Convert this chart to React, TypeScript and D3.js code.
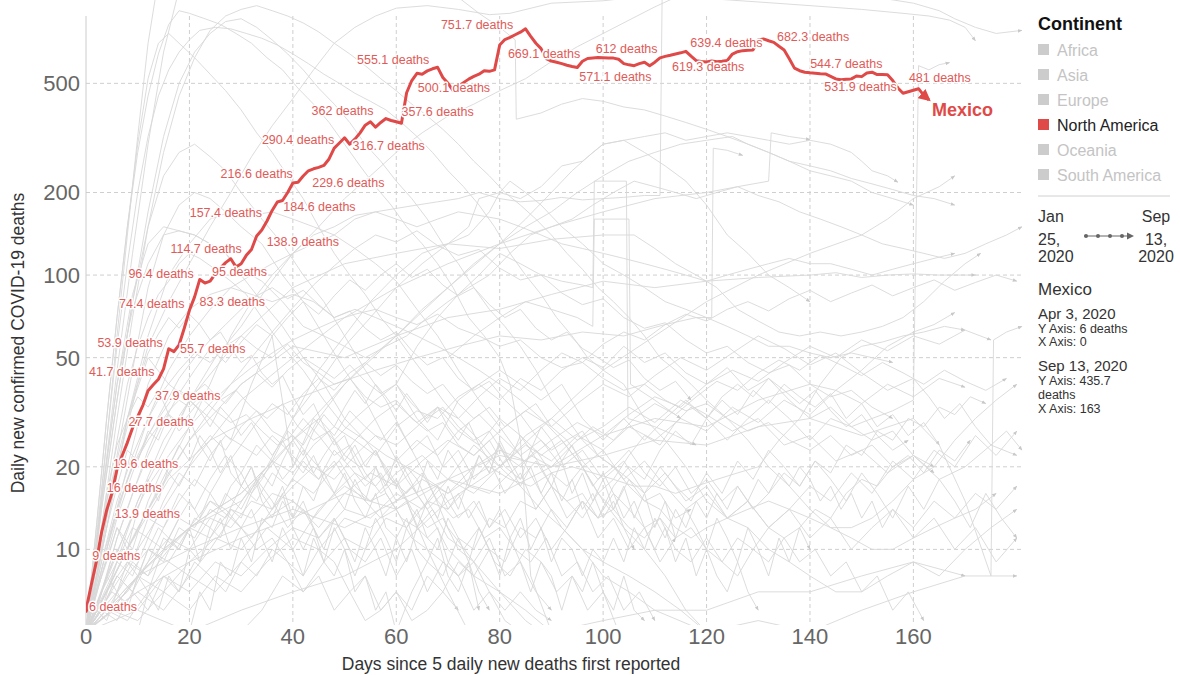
import React from "react";
import * as d3 from "d3";

const WIDTH = 1180;
const HEIGHT = 675;

// Mexico: daily new confirmed deaths (7-day avg), index = days since 5 daily deaths (Apr 3 .. Sep 13, 2020)
const mexicoDeaths = [
  6, 7.4, 9, 11.5, 13.9, 16, 19.6, 22, 24.5, 27.7,
  30.5, 33.5, 37.9, 39.8, 41.7, 45.5, 53.9, 52.6, 55.7, 64,
  74.4, 83.3, 96.4, 93.5, 95, 101, 106, 111, 114.7, 107,
  110, 118, 124, 138.9, 146, 157.4, 172, 184.6, 187, 200,
  216.6, 218, 229.6, 240, 244, 247, 251, 265, 290.4, 303,
  316.7, 300, 313, 330, 352, 362, 346, 360, 372, 366,
  362, 357.6, 462, 512, 544, 540, 555.1, 565, 572, 525,
  500.1, 470, 488, 503, 518, 530, 540, 556, 553, 560,
  690, 722, 735, 751.7, 768, 790, 742, 700, 669.1, 615,
  603, 597, 590, 582, 576, 571.1, 602, 616, 619, 621,
  620, 619, 618, 612, 590, 584, 580, 590, 597, 580,
  597, 619.3, 627, 633, 640, 646, 654, 628, 605, 601,
  598, 603, 600, 602, 606, 639.4, 652, 658, 660, 662,
  720, 726, 715, 705, 682.3, 662, 615, 568, 556, 549,
  546, 544.7, 542, 541, 530, 519, 515, 517, 519, 531.9,
  529, 545, 549, 538, 538, 537, 512, 481, 460, 466,
  472, 478, 452, 435.7,
];

// days whose value is written next to the line
const labelDays = [
  0, 2, 4, 5, 6, 9, 12, 14, 16, 18, 20, 21, 22, 24, 28, 33, 35, 37,
  40, 42, 48, 50, 55, 61, 66, 70, 83, 88, 95, 103, 111, 125, 134, 141, 149, 157,
];
// how each label sits against its point: text-anchor, dx, dy (px)
const labelPlacement: [string, number, number][] = [
  ["start", 3, -4], ["start", -4, -6], ["start", 8, 3], ["start", -5, -6],
  ["start", -4, -6], ["start", -4, -6], ["start", 7, 5], ["end", -4, -8],
  ["end", -6, -6], ["start", 1, 4], ["end", -5, -7], ["start", 5, 5],
  ["end", -6, -6], ["start", 2, -10], ["end", 11, -10], ["start", 10, 6],
  ["end", -5, -8], ["start", 6, 5], ["end", 0, -9], ["start", 9, 7],
  ["end", 0, -8], ["start", 8, 8], ["end", 3, -11], ["start", 0, -12],
  ["end", 2, -11], ["middle", 6, 4], ["end", -2, -10], ["middle", 3, 5],
  ["start", 2, 9], ["middle", 8, -11], ["start", 12, 9], ["middle", -6, -11],
  ["start", -2, -10], ["start", -5, -10], ["middle", 4, 11], ["start", 11, -10],
];

const xTicks = [0, 20, 40, 60, 80, 100, 120, 140, 160];
const yTicks = [10, 20, 50, 100, 200, 500];

const continents = ["Africa", "Asia", "Europe", "North America", "Oceania", "South America"];
const activeContinent = "North America";

type Pt = [number, number];

// other countries that climb past the top of the chart
const greyHigh: Pt[][] = [
  [[0,5],[2,11],[4,25],[6,60],[8,140],[10,320],[12,700],[14,1200],[40,2000],[120,1400],[150,1050],[160,980],[165,920],[168,860],[172,800],[176,760],[181,780]],
  [[0,5],[4,12],[8,30],[12,55],[16,80],[20,110],[24,150],[28,200],[32,270],[36,350],[40,440],[44,560],[48,700],[52,800],[56,880],[60,940],[66,960],[72,930],[78,890],[82,900],[90,980],[100,1000],[110,1050],[120,1020],[130,990],[140,960],[150,930],[158,900],[163,880],[167,850],[170,800],[172,715]],
  [[0,5],[5,8],[10,15],[15,25],[20,35],[25,50],[30,65],[35,90],[40,120],[45,150],[50,190],[55,230],[60,280],[65,330],[70,380],[75,420],[80,470],[85,520],[90,600],[95,680],[100,760],[105,850],[110,950],[115,1050]],
  [[0,5],[2,10],[4,25],[6,55],[8,110],[10,200],[12,320],[14,450],[16,560],[18,650],[20,720],[22,780],[25,800],[28,790],[31,760],[34,730],[37,690],[40,640],[43,590],[46,540],[49,500],[52,460],[55,430],[58,400],[61,360],[64,320],[67,280],[70,240],[73,210],[76,180],[79,150],[82,120],[85,100],[88,85],[91,70],[94,60],[97,50],[100,45],[104,40],[108,30],[112,25],[116,20],[120,15],[124,13],[128,12],[132,10],[136,9],[140,8],[145,7],[150,7],[155,8],[160,9],[165,8],[170,10],[175,12],[180,14]],
  [[0,5],[2,12],[4,30],[6,70],[8,150],[10,280],[12,450],[14,640],[16,820],[18,920],[20,900],[23,860],[26,820],[29,760],[32,700],[35,620],[38,560],[41,480],[44,420],[47,360],[50,300],[53,250],[56,210],[59,180],[62,150],[65,130],[68,110],[71,90],[74,70],[77,60],[80,50],[82,40],[84,25],[86,8],[90,5]],
  [[0,5],[3,14],[6,35],[9,80],[12,170],[15,320],[18,500],[21,650],[24,760],[27,840],[30,860],[33,800],[36,720],[39,640],[42,560],[45,480],[48,420],[51,360],[54,300],[57,260],[60,220],[63,190],[66,160],[69,130],[72,110],[75,90],[78,75],[81,65],[84,55],[87,45],[90,35],[93,30],[96,25],[99,22],[102,20],[105,18],[108,15],[111,14],[114,12],[117,11],[120,12],[124,13],[128,14],[132,15],[136,14],[140,13],[144,12],[148,12],[152,13],[156,15],[160,18],[164,20],[168,25],[172,30],[176,35],[180,40]],
  [[0,5],[3,12],[6,30],[9,70],[12,150],[15,280],[18,450],[21,620],[24,780],[27,880],[30,930],[33,960],[36,920],[39,880],[42,830],[45,770],[48,700],[51,640],[54,580],[57,520],[60,470],[63,420],[66,380],[69,340],[72,300],[75,260],[78,230],[81,200],[84,180],[87,160],[90,140],[93,120],[96,105],[99,90],[102,80],[105,70],[108,60],[111,50],[114,45],[117,40],[120,35],[124,30],[128,25],[132,20],[136,17],[140,14],[144,12],[148,11],[152,10],[156,10],[160,11],[164,12],[168,13],[172,14],[176,16]],
  [[0,5],[2,12],[4,30],[6,70],[8,150],[10,300],[12,520],[14,700],[16,760],[18,700],[21,620],[24,540],[27,470],[30,400],[33,330],[36,280],[39,230],[42,190],[45,150],[48,120],[51,100],[54,85],[57,70],[60,60],[63,50],[66,42],[69,35],[72,30],[76,25],[80,20],[84,17],[88,14],[92,12],[96,10],[100,9],[105,8],[110,7],[115,6],[120,5]],
  [[0,5],[3,15],[6,45],[9,120],[12,300],[15,650],[18,1100],[40,1500],[70,1100],[76,900],[80,800],[83,720],[83.2,370],[88,390],[92,420],[96,440],[100,430],[104,410],[108,400],[112,380],[116,360],[120,340],[124,320],[128,300],[132,280],[136,260],[140,250],[144,240],[148,225],[152,215],[156,205],[160,195],[164,190],[168,180]],
  [[0,5],[4,10],[8,18],[12,30],[16,45],[20,60],[24,75],[28,90],[32,100],[36,110],[40,120],[44,130],[48,140],[52,160],[56,170],[60,175],[64,180],[68,185],[72,190],[76,200],[80,190],[84,185],[88,187],[92,192],[96,188],[100,190],[104,192],[108,195],[111,195],[111.5,1500]],
];

// countries peaking between roughly 50 and 400 deaths a day
const greyMid: Pt[][] = [
  [[0,5],[3,10],[6,22],[9,45],[12,90],[15,140],[18,180],[21,200],[24,190],[27,170],[30,150],[34,130],[38,100],[42,80],[46,60],[50,45],[54,35],[58,25],[62,18],[66,14],[70,10],[75,8],[80,7],[85,6],[90,5],[100,5.5],[110,6],[120,5],[130,5.5],[140,5],[150,6],[160,7],[170,8],[180,8]],
  [[0,5],[3,14],[6,35],[9,80],[12,150],[15,230],[18,280],[21,300],[24,270],[27,240],[30,200],[34,160],[38,130],[42,100],[46,80],[50,60],[54,45],[58,35],[62,25],[66,18],[70,12],[75,9],[80,7],[85,5.5],[88,5]],
  [[0,5],[3,15],[6,40],[9,85],[12,130],[15,150],[18,145],[21,140],[24,130],[27,120],[30,100],[34,80],[38,65],[42,50],[46,40],[50,30],[54,25],[58,20],[62,15],[66,10],[70,7],[74,5]],
  [[0,5],[4,12],[8,30],[12,60],[16,100],[20,130],[24,160],[28,170],[32,165],[36,170],[40,160],[44,150],[48,140],[52,125],[56,110],[60,95],[64,75],[68,60],[72,45],[76,35],[80,28],[84,22],[88,16],[92,12],[96,10],[100,8],[105,7],[110,6],[120,6],[130,7],[140,7],[150,8],[160,9],[170,8]],
  [[0,5],[3,15],[6,40],[9,75],[12,110],[15,140],[18,145],[21,140],[24,130],[27,120],[30,105],[34,95],[38,80],[42,65],[46,60],[50,55],[54,50],[58,55],[62,60],[66,70],[70,80],[74,90],[78,100],[82,120],[86,140],[90,150],[94,160],[98,180],[102,200],[106,220],[110,210],[114,200],[118,190],[122,200],[126,210],[130,195],[134,185],[138,170],[142,160],[146,150],[150,140],[154,130],[158,125],[162,120],[166,115],[170,120],[174,130],[178,140],[181,150]],
  [[0,5],[2,8],[4,15],[6,25],[8,40],[10,55],[12,70],[14,85],[16,95],[18,110],[20,120],[22,115],[25,105],[28,95],[31,85],[34,70],[38,55],[42,45],[46,35],[50,28],[54,25],[58,22],[62,20],[66,18],[70,16],[74,18],[78,20],[82,18],[86,17],[90,19],[94,20],[98,19],[102,18],[106,17],[110,17],[114,16],[118,17],[122,18],[126,19],[130,20],[134,25],[138,30],[142,40],[146,50],[150,55],[154,57],[158,60],[162,62],[166,65],[170,63]],
  [[0,5],[4,10],[8,20],[12,40],[16,60],[20,75],[24,85],[28,90],[32,85],[36,80],[40,85],[44,80],[48,70],[52,75],[56,70],[60,65],[64,60],[68,55],[72,50],[76,45],[80,40],[84,35],[88,30],[92,25],[96,20],[100,15],[104,12],[108,10],[112,8],[116,6],[120,5]],
  [[0,5],[4,7],[8,10],[12,14],[16,20],[20,28],[24,40],[28,60],[32,80],[36,100],[40,120],[44,140],[48,150],[52,165],[56,170],[60,160],[64,150],[68,160],[72,170],[76,165],[80,160],[84,150],[88,140],[92,130],[96,125],[100,120],[104,115],[108,110],[112,105],[116,100],[120,95],[124,100],[128,105],[132,110],[136,115],[140,110],[144,110],[148,105],[152,100],[156,105],[160,110],[164,115],[168,120]],
  [[0,5],[5,6],[10,8],[15,10],[20,12],[25,14],[30,16],[35,20],[40,30],[45,40],[50,55],[55,70],[60,90],[65,110],[70,130],[74,140],[78,170],[80,200],[82,220],[85,200],[88,180],[92,150],[96,130],[98,120],[100,110],[104,100],[108,90],[112,80],[116,75],[120,70],[124,65],[128,60],[132,55],[136,55],[140,52],[144,50],[148,52],[152,50],[156,48]],
  [[0,5],[5,6],[10,8],[15,10],[20,12],[25,14],[30,16],[35,20],[40,25],[45,30],[50,40],[55,50],[60,60],[65,75],[70,90],[75,110],[80,130],[85,150],[90,170],[95,200],[100,230],[105,260],[110,280],[115,300],[120,310],[125,320],[128,300],[132,280],[136,260],[140,240],[144,230],[148,220],[152,200],[156,190],[160,180]],
  [[0,5],[10,6],[20,5],[30,6],[40,7],[50,8],[60,10],[70,15],[80,20],[90,30],[100,45],[110,60],[120,80],[130,100],[140,120],[150,140],[155,160],[160,190],[165,210],[168,230]],
  [[0,5],[10,8],[20,12],[30,15],[40,25],[50,40],[60,60],[70,90],[80,130],[85,160],[90,200],[94,240],[98,280],[100,300],[104,310],[108,280],[112,250],[116,220],[120,180],[124,140],[128,120],[132,100],[136,90],[140,80]],
  [[40,30],[45,45],[50,60],[55,80],[60,100],[65,120],[70,130],[74,150],[76,190],[80,200],[84,190],[88,210],[92,250],[96,260],[100,300],[104,310],[108,320],[112,330],[116,310],[120,320],[124,330],[128,320],[132,310],[136,300],[140,310],[144,300],[148,280],[150,260],[152,240],[155,230],[157,218]],
  [[0,5],[10,15],[20,35],[30,60],[40,90],[50,110],[60,120],[70,130],[80,125],[90,135],[100,140],[106,140],[110,125],[114,110],[118,100],[122,90],[126,75],[130,68],[134,62],[138,60],[142,62],[146,60],[150,62],[154,65],[158,70],[162,80],[166,95],[170,110],[173,120]],
  [[0,5],[10,12],[20,25],[30,40],[40,55],[50,50],[60,60],[70,70],[80,75],[90,85],[100,95],[110,90],[120,95],[130,98],[140,100],[145,102],[150,98],[155,100],[160,101],[165,100],[172,100]],
  [[60,40],[64,55],[68,70],[72,85],[76,100],[80,120],[84,110],[88,100],[92,95],[96,92],[98,90],[98.3,220],[104.5,220],[104.8,30],[110,28],[114,26],[118,24]],
  [[70,50],[75,60],[80,70],[85,80],[90,75],[95,70],[98,65],[98.3,160],[105,160],[105.3,40],[110,35],[115,30]],
  [[0,5],[8,10],[16,18],[24,25],[32,30],[40,35],[48,40],[56,45],[64,50],[72,55],[80,60],[88,58],[96,62],[104,60],[112,66],[118,70],[121,70],[121.3,290],[124,285],[127,273]],
  [[0,5],[10,10],[20,20],[30,35],[40,50],[50,70],[60,90],[70,110],[80,130],[90,150],[100,170],[110,190],[120,200],[126,210],[132,220],[132.5,330],[136,320],[140,312]],
  [[0,5],[4,15],[8,30],[12,50],[16,40],[20,35],[24,30],[28,25],[32,40],[36,60],[40,20],[44,30],[48,25],[52,30],[56,35],[60,40],[64,30],[68,25],[72,35],[76,40],[80,45],[84,40],[88,35],[92,40],[96,30],[100,25],[104,30],[108,25],[112,30],[116,35],[120,30],[124,25],[128,30],[132,35],[136,30],[140,25],[144,30],[148,28],[152,30],[156,32],[160,35],[161,580],[163,560],[165,585],[167,595]],
  [[0,5],[4,7],[8,10],[12,14],[16,19],[20,25],[24,32],[28,40],[32,50],[36,62],[40,76],[44,92],[48,108],[52,125],[56,140],[60,132],[64,145],[68,128],[72,118],[76,124],[80,106],[84,96],[88,100],[92,86],[96,78],[100,82],[104,70],[108,64],[112,67],[116,58],[120,52],[124,55],[128,48],[132,44],[136,47],[140,40],[144,36],[148,38],[152,33],[156,30]],
  [[0,5],[3,7],[6,11],[9,16],[12,22],[15,29],[18,37],[21,45],[24,54],[27,48],[30,57],[33,66],[36,60],[39,70],[42,80],[45,72],[48,84],[51,96],[54,88],[57,100],[60,110],[63,98],[66,105],[69,92],[72,84],[75,90],[78,78],[81,70],[84,75],[87,64],[90,58],[93,62],[96,54],[99,50],[102,46],[105,49],[108,42],[111,38],[114,41],[117,35]],
  [[0,5],[3,8],[6,13],[9,19],[12,26],[15,33],[18,42],[21,50],[24,58],[27,66],[30,75],[33,84],[36,90],[39,82],[42,88],[45,78],[48,70],[51,74],[54,64],[57,58],[60,62],[63,53],[66,47],[69,50],[72,42],[75,38],[78,41],[81,35],[84,31],[87,34],[90,28],[93,25],[96,27],[99,22],[102,20],[105,23],[108,19],[111,17],[114,20],[117,16],[120,18],[123,15],[126,17],[129,14],[132,16],[135,19],[138,17],[141,21],[144,19],[147,24],[150,22],[153,27],[156,25],[159,30],[162,28],[165,33],[168,31],[171,36],[174,34]],
];

// countries that stay low, mostly below 60 deaths a day
const greyLow: Pt[][] = [
  [[0,5],[3,7],[6,9],[9,8],[12,11],[15,10],[18,13],[21,12],[24,15],[27,14],[30,12],[33,10],[36,11],[39,9],[42,8],[45,10],[48,9],[51,7],[54,8],[57,6],[60,7],[63,5.5],[66,6],[69,7],[72,6]],
  [[0,5],[3,6],[6,8],[9,7],[12,9],[15,12],[18,15],[21,18],[24,16],[27,20],[30,24],[33,22],[36,26],[39,23],[42,20],[45,18],[48,21],[51,17],[54,15],[57,13],[60,14],[63,11],[66,10],[69,9],[72,8],[75,9],[78,7],[81,6],[84,7],[87,6],[90,5.5]],
  [[0,5],[4,6],[8,5.5],[12,7],[16,9],[20,8],[24,10],[28,13],[32,11],[36,14],[40,18],[44,16],[48,20],[52,25],[56,22],[60,28],[64,32],[68,30],[72,36],[76,40],[80,35],[84,42],[88,38],[92,45],[96,50],[100,46],[104,55],[108,48],[112,52],[116,44],[120,40],[124,46],[128,38],[132,42],[136,35],[140,30],[144,33],[148,28],[152,25],[156,27],[160,22],[164,20]],
  [[0,5],[3,8],[6,12],[9,10],[12,15],[15,20],[18,17],[21,22],[24,26],[27,23],[30,28],[33,32],[36,27],[39,25],[42,30],[45,26],[48,22],[51,24],[54,19],[57,16],[60,18],[63,14],[66,12],[69,13],[72,10],[75,9],[78,11],[81,8],[84,9],[87,7],[90,6]],
  [[0,5],[5,6],[10,7],[15,6],[20,8],[25,7],[30,9],[35,12],[40,10],[45,14],[50,17],[55,15],[60,19],[65,22],[70,18],[75,24],[80,20],[85,26],[90,30],[95,25],[100,28],[105,33],[110,29],[115,35],[120,31],[125,27],[130,30],[135,24],[140,26],[145,21],[150,23],[155,19],[160,22],[165,18],[170,20],[175,24],[180,22]],
  [[0,5],[3,6],[6,7],[9,9],[12,8],[15,11],[18,10],[21,13],[24,12],[27,16],[30,14],[33,18],[36,15],[39,12],[42,14],[45,11],[48,13],[51,10],[54,9],[57,11],[60,8],[63,10],[66,7],[69,9],[72,8],[75,6],[78,7],[81,5.5],[84,5]],
  [[0,5],[2,7],[4,10],[6,14],[8,18],[10,22],[12,26],[14,30],[16,34],[18,38],[20,36],[23,40],[26,35],[29,38],[32,33],[35,30],[38,34],[41,28],[44,25],[47,27],[50,22],[53,20],[56,23],[59,18],[62,16],[65,19],[68,15],[71,13],[74,14],[77,11],[80,12],[83,10],[86,9],[89,11],[92,8],[95,9],[98,7],[101,8],[104,6],[107,7],[110,5.5]],
  [[0,5],[4,6],[8,8],[12,10],[16,9],[20,12],[24,15],[28,13],[32,17],[36,21],[40,19],[44,24],[48,28],[52,25],[56,30],[60,34],[64,29],[68,33],[72,27],[76,31],[80,26],[84,22],[88,25],[92,20],[96,23],[100,18],[104,21],[108,16],[112,19],[116,15],[120,17],[124,13],[128,15],[132,12],[136,14],[140,11],[144,13],[148,10],[152,12],[156,14],[160,12],[164,15],[168,13],[172,16],[176,14],[180,17]],
  [[0,5],[3,9],[6,15],[9,22],[12,30],[15,38],[18,45],[21,52],[24,48],[27,55],[30,60],[33,54],[36,50],[39,56],[42,48],[45,44],[48,40],[51,42],[54,36],[57,33],[60,35],[63,30],[66,27],[69,29],[72,24],[75,22],[78,25],[81,20],[84,18],[87,21],[90,17],[93,15],[96,16],[99,13],[102,14],[105,12],[108,11],[111,13],[114,10],[117,9],[120,11],[123,9],[126,8],[129,10],[132,9],[135,11],[138,12],[141,14],[144,13],[147,16],[150,18],[153,17],[156,20],[159,22],[162,19],[165,23],[168,21],[171,25]],
  [[0,5],[5,7],[10,6],[15,8],[20,7],[25,9],[30,8],[35,10],[40,12],[45,11],[50,14],[55,13],[60,16],[65,14],[70,18],[75,16],[80,20],[85,24],[90,21],[95,26],[100,23],[105,28],[110,25],[115,30],[120,27],[125,33],[130,29],[135,35],[140,31],[145,38],[150,34],[155,40],[160,36],[165,42],[170,39]],
  [[0,5],[3,6],[6,5.5],[9,7],[12,6],[15,8],[18,7],[21,9],[24,8],[27,7],[30,9],[33,8],[36,10],[39,9],[42,7],[45,8],[48,6],[51,7],[54,5.5],[57,6],[60,7],[63,6],[66,8],[69,7],[72,9],[75,8],[78,10],[81,9],[84,12],[87,11],[90,14],[93,12],[96,15],[99,13],[102,16],[105,14],[108,12],[111,13],[114,11],[117,12],[120,10],[123,9],[126,11],[129,10],[132,12],[135,11],[138,9],[141,10],[144,8],[147,9],[150,7],[153,8],[156,6],[159,7],[162,5.5]],
  [[0,5],[4,8],[8,12],[12,17],[16,22],[20,28],[24,34],[28,40],[32,46],[36,52],[40,58],[44,63],[48,68],[52,72],[56,75],[60,70],[64,66],[68,72],[72,64],[76,60],[80,55],[84,58],[88,50],[92,46],[96,48],[100,42],[104,38],[108,40],[112,35],[116,32],[120,34],[124,30],[128,27],[132,29],[136,25],[140,23],[144,26],[148,22],[152,24],[156,20],[160,22],[164,19]],
  [[0,5],[3,7],[6,10],[9,9],[12,13],[15,12],[18,16],[21,14],[24,18],[27,22],[30,19],[33,24],[36,21],[39,27],[42,24],[45,30],[48,26],[51,32],[54,28],[57,25],[60,29],[63,23],[66,26],[69,20],[72,23],[75,18],[78,21],[81,16],[84,19],[87,14],[90,17],[93,13],[96,15],[99,11],[102,13],[105,10],[108,12],[111,9],[114,11]],
  [[0,5],[4,6],[8,7],[12,9],[16,11],[20,10],[24,13],[28,12],[32,15],[36,14],[40,17],[44,20],[48,18],[52,22],[56,26],[60,24],[64,28],[68,33],[72,30],[76,36],[80,42],[84,38],[88,45],[92,52],[96,48],[100,56],[104,62],[108,58],[112,66],[116,72],[120,68],[124,75],[128,80],[132,74],[136,82],[140,88],[144,80],[148,86],[152,92],[156,84],[160,90],[164,96],[168,88],[172,94],[176,100],[180,95]],
  [[0,5],[2,6],[4,8],[6,11],[8,14],[10,18],[12,23],[14,28],[16,32],[18,35],[20,33],[22,36],[25,32],[28,29],[31,31],[34,27],[37,24],[40,26],[43,22],[46,19],[49,21],[52,17],[55,15],[58,16],[61,13],[64,12],[67,14],[70,11],[73,10],[76,12],[79,9],[82,8],[85,10],[88,9],[91,7],[94,8],[97,6],[100,7],[103,5]],
  [[0,5],[3,6],[6,8],[9,7],[12,10],[15,9],[18,12],[21,11],[24,14],[27,13],[30,17],[33,15],[36,19],[39,17],[42,21],[45,18],[48,23],[51,20],[54,17],[57,19],[60,15],[63,17],[66,14],[69,16],[72,13],[75,15],[78,12],[81,14],[84,11],[87,13],[90,10],[93,12],[96,15],[99,13],[102,17],[105,20],[108,18],[111,23],[114,27],[117,24],[120,30],[123,35],[126,31],[129,38],[132,34],[135,40],[138,36],[141,33],[144,37],[147,30],[150,34],[153,28],[156,31],[159,26],[162,29],[165,24]],
  [[0,5],[5,6],[10,5.5],[15,7],[20,6],[25,8],[30,7],[35,9],[40,11],[45,10],[50,13],[55,12],[60,15],[65,18],[70,16],[75,20],[80,23],[85,21],[90,25],[95,29],[100,26],[105,31],[110,36],[115,33],[120,40],[125,45],[130,41],[135,48],[140,55],[145,50],[150,58],[155,53],[160,60],[165,56],[170,63],[175,58]],
  [[0,5],[3,9],[6,14],[9,20],[12,25],[15,30],[18,28],[21,33],[24,38],[27,34],[30,40],[33,44],[36,39],[39,45],[42,50],[45,46],[48,42],[51,47],[54,41],[57,37],[60,40],[63,34],[66,30],[69,33],[72,28],[75,25],[78,27],[81,22],[84,20],[87,23],[90,19],[93,17],[96,20],[99,16],[102,18],[105,22],[108,26],[111,24],[114,29],[117,33],[120,30],[123,36],[126,40],[129,36],[132,42],[135,38],[138,34],[141,38],[144,32],[147,28],[150,31],[153,26],[156,23],[159,25]],
  [[0,5],[4,7],[8,9],[12,8],[16,10],[20,12],[24,11],[28,14],[32,13],[36,16],[40,15],[44,13],[48,16],[52,19],[56,17],[60,21],[64,25],[68,22],[72,27],[76,24],[80,30],[84,26],[88,22],[92,25],[96,20],[100,23],[104,18],[108,21],[112,17],[116,14],[120,16],[124,13],[128,15],[132,12],[136,14],[140,17],[144,15],[148,19],[152,16],[156,21],[160,18],[164,23],[168,20],[172,26],[176,22],[180,27]],
  [[0,5],[3,6],[6,9],[9,12],[12,11],[15,15],[18,19],[21,17],[24,22],[27,26],[30,24],[33,29],[36,34],[39,31],[42,37],[45,42],[48,38],[51,44],[54,48],[57,43],[60,47],[63,41],[66,37],[69,40],[72,34],[75,30],[78,33],[81,28],[84,31],[87,26],[90,23],[93,25],[96,21],[99,18],[102,20],[105,17],[108,15],[111,16],[114,13],[117,14]],
  [[0,5],[10,8],[20,10],[30,12],[40,14],[50,12],[60,15],[70,18],[80,16],[90,20],[100,22],[110,25],[120,24],[130,28],[140,30],[150,26],[160,30],[165,24],[170,15],[175,8],[175.5,58],[178,62],[181,65]],
  [[0,5],[10,7],[20,9],[30,11],[40,13],[50,16],[60,14],[70,18],[80,22],[90,20],[100,26],[110,30],[120,28],[130,35],[140,40],[145,38],[150,45],[155,55],[160,62],[164,66],[168,73]],
  [[0,5],[2,9],[4,16],[6,24],[8,30],[10,36],[12,33],[14,38],[16,31],[18,27],[20,30],[22,24],[24,21],[26,25],[28,19],[30,17],[32,20],[34,15],[36,13],[38,16],[40,12],[42,10],[44,12],[46,9],[48,8],[50,10],[52,7],[54,8],[56,6],[58,7],[60,5]],
  [[0,5],[2,8],[4,13],[6,20],[8,28],[10,40],[12,52],[14,61],[16,70],[18,64],[20,72],[22,66],[24,58],[26,62],[28,54],[30,48],[32,51],[34,44],[36,40],[38,43],[40,36],[42,31],[44,34],[46,28],[48,24],[50,26],[52,21],[54,18],[56,20],[58,16],[60,14],[62,15],[64,12],[66,11],[68,12],[70,9],[72,8],[74,9],[76,7],[78,6]],
  [[0,5],[2,6],[4,5.5],[6,7],[8,6],[10,8],[12,7],[14,9],[16,11],[18,10],[20,12],[22,9],[24,11],[26,13],[28,10],[30,12],[32,14],[34,11],[36,9],[38,12],[40,10],[42,8],[44,11],[46,9],[48,12],[50,10],[52,8],[54,10],[56,13],[58,11],[60,9],[62,12],[64,14],[66,11],[68,10],[70,13],[72,11],[74,9],[76,12],[78,10],[80,8],[82,11],[84,9],[86,7],[88,9],[90,8],[92,6],[94,8],[96,7],[98,9],[100,7],[102,6],[104,8],[106,6],[108,5.5]],
  [[20,5],[22,7],[24,6],[26,9],[28,8],[30,11],[32,9],[34,13],[36,12],[38,15],[40,13],[42,17],[44,15],[46,19],[48,16],[50,14],[52,18],[54,15],[56,20],[58,17],[60,22],[62,19],[64,16],[66,21],[68,18],[70,23],[72,20],[74,17],[76,22],[78,19],[80,25],[82,21],[84,18],[86,23],[88,20],[90,17],[92,21],[94,16],[96,19],[98,15],[100,18],[102,14],[104,17],[106,13],[108,16],[110,12],[112,15],[114,11],[116,14],[118,12],[120,10],[122,13],[124,11],[126,9],[128,12],[130,10],[132,8],[134,11],[136,9],[138,12],[140,10]],
  [[0,5],[2,7],[4,9],[6,12],[8,10],[10,14],[12,18],[14,15],[16,20],[18,24],[20,21],[22,26],[24,23],[26,19],[28,22],[30,17],[32,20],[34,16],[36,14],[38,17],[40,13],[42,15],[44,12],[46,10],[48,13],[50,11],[52,9],[54,12],[56,10],[58,8],[60,11],[62,9],[64,12],[66,15],[68,13],[70,17],[72,14],[74,18],[76,22],[78,19],[80,24],[82,21],[84,26],[86,23],[88,28],[90,25],[92,21],[94,24],[96,20],[98,17],[100,19],[102,16],[104,13],[106,15],[108,12],[110,10],[112,12],[114,9],[116,11],[118,8],[120,10],[122,8],[124,7],[126,9],[128,7],[130,6]],
  [[10,5],[12,7],[14,6],[16,8],[18,7],[20,10],[22,9],[24,12],[26,11],[28,14],[30,13],[32,16],[34,19],[36,17],[38,21],[40,25],[42,22],[44,27],[46,31],[48,28],[50,33],[52,38],[54,34],[56,40],[58,36],[60,32],[62,37],[64,33],[66,29],[68,33],[70,28],[72,25],[74,29],[76,24],[78,21],[80,24],[82,20],[84,17],[86,20],[88,16],[90,19],[92,15],[94,18],[96,14],[98,16],[100,13],[102,15],[104,12],[106,10]],
  [[0,5],[2,6],[4,8],[6,7],[8,9],[10,8],[12,10],[14,12],[16,11],[18,13],[20,15],[22,13],[24,16],[26,14],[28,17],[30,19],[32,16],[34,18],[36,21],[38,18],[40,20],[42,23],[44,19],[46,22],[48,25],[50,21],[52,24],[54,20],[56,23],[58,19],[60,17],[62,20],[64,18],[66,15],[68,17],[70,14],[72,16],[74,13],[76,15],[78,12],[80,14],[82,11],[84,13],[86,10],[88,12],[90,9],[92,11],[94,10],[96,8],[98,10],[100,9],[102,11],[104,9],[106,12],[108,10],[110,13],[112,11],[114,14],[116,12],[118,15],[120,13],[122,16],[124,14],[126,17],[128,15],[130,18],[132,16],[134,19],[136,17],[138,20],[140,18],[142,15],[144,17],[146,14],[148,16],[150,13],[152,15],[154,12],[156,14],[160,11],[164,13],[168,10],[172,12],[176,9],[180,11]],
  [[30,5],[34,6],[38,8],[42,7],[46,9],[50,11],[54,10],[58,13],[62,12],[66,15],[70,14],[74,17],[78,16],[82,19],[86,22],[90,20],[94,24],[98,28],[102,25],[106,30],[110,34],[114,31],[118,36],[122,41],[126,38],[130,44],[134,49],[138,45],[142,51],[146,47],[150,43],[154,48],[158,44],[162,40],[166,45],[170,41],[174,38],[178,42]],
  [[0,5],[2,8],[4,12],[6,17],[8,23],[10,21],[12,27],[14,25],[16,31],[18,29],[20,35],[22,32],[24,28],[26,33],[28,30],[30,26],[32,29],[34,25],[36,22],[38,25],[40,21],[42,19],[44,22],[46,18],[48,16],[50,19],[52,15],[54,13],[56,16],[58,12],[60,11],[62,13],[64,10],[66,9],[68,11],[70,8],[72,7],[74,9],[76,6]],
  [[60,5],[63,7],[66,9],[69,8],[72,11],[75,10],[78,13],[81,12],[84,15],[87,14],[90,17],[93,15],[96,13],[99,16],[102,14],[105,18],[108,16],[111,20],[114,17],[117,15],[120,19],[123,16],[126,21],[129,18],[132,23],[135,20],[138,17],[141,21],[144,18],[147,15],[150,19],[153,16],[156,13],[159,17],[162,14],[165,18],[168,15],[171,12],[174,16],[177,13],[180,11]],
  [[0,5],[5,6],[10,8],[15,7],[20,9],[25,11],[30,10],[35,13],[40,15],[45,12],[50,16],[55,19],[60,17],[65,21],[70,25],[75,22],[80,27],[85,32],[90,28],[95,34],[100,40],[105,36],[110,43],[115,50],[120,45],[125,52],[130,60],[135,54],[140,47],[145,52],[150,44],[155,38],[160,42],[163,36],[166,30],[169,34],[172,28],[175,24],[178,27],[181,23]],
];

const RED = "#df4a48";
const RED_TEXT = "#df5b58";
const GREY_LINE = "#d8d8d8";
const FONT = "'Liberation Sans', Arial, Helvetica, sans-serif";

export default function App() {
  const x = d3.scaleLinear().domain([0, 181]).range([86, 1022]);
  const y = d3.scaleLog().domain([5.3, 880]).range([625, 16]);
  const line = d3
    .line<Pt>()
    .x((d) => x(d[0]))
    .y((d) => y(d[1]));

  const mexico: Pt[] = mexicoDeaths.map((v, i) => [i, v]);
  const greyAll = [...greyLow, ...greyMid, ...greyHigh];
  const last = mexico[mexico.length - 1];

  return (
    <svg
      width={WIDTH}
      height={HEIGHT}
      style={{ position: "absolute", left: 0, top: 0, background: "#fff" }}
      fontFamily={FONT}
    >
      <defs>
        <clipPath id="plotClip">
          <rect x={86} y={0} width={960} height={625} />
        </clipPath>
        <marker id="greyArrow" viewBox="0 0 10 10" refX={9} refY={5} markerWidth={5} markerHeight={5} orient="auto">
          <path d="M0,1 L10,5 L0,9 z" fill="#c8c8c8" />
        </marker>
        <marker id="redArrow" viewBox="0 0 10 10" refX={8} refY={5} markerWidth={12} markerHeight={12} markerUnits="userSpaceOnUse" orient="auto">
          <path d="M0,0 L10,5 L0,10 z" fill={RED} />
        </marker>
      </defs>

      {/* grid */}
      <g stroke="#cfcfcf" strokeDasharray="4,3" strokeWidth={1}>
        {yTicks.map((t) => (
          <line key={"gy" + t} x1={86} x2={1022} y1={y(t)} y2={y(t)} />
        ))}
        {xTicks.filter((t) => t > 0).map((t) => (
          <line key={"gx" + t} x1={x(t)} x2={x(t)} y1={16} y2={625} />
        ))}
      </g>
      <line x1={86} x2={86} y1={16} y2={625} stroke="#ccc" strokeWidth={1} />

      {/* tick labels */}
      <g fill="#666" fontSize={22}>
        {yTicks.map((t) => (
          <text key={"ty" + t} x={80} y={y(t)} dy="0.36em" textAnchor="end">
            {t}
          </text>
        ))}
        {xTicks.map((t) => (
          <text key={"tx" + t} x={x(t)} y={644} textAnchor="middle">
            {t}
          </text>
        ))}
      </g>

      <text x={511} y={670} textAnchor="middle" fontSize={17.5} fill="#333">
        Days since 5 daily new deaths first reported
      </text>
      <text transform="translate(24,343) rotate(-90)" textAnchor="middle" fontSize={17.5} fill="#333">
        Daily new confirmed COVID-19 deaths
      </text>

      {/* background countries */}
      <g clipPath="url(#plotClip)" fill="none" stroke={GREY_LINE} strokeWidth={0.9}>
        {greyAll.map((s, i) => (
          <path key={"g" + i} d={line(s) || ""} markerEnd="url(#greyArrow)" />
        ))}
      </g>

      {/* Mexico */}
      <g clipPath="url(#plotClip)">
        <path d={line(mexico) || ""} fill="none" stroke={RED} strokeWidth={3} strokeLinejoin="round" markerEnd="url(#redArrow)" />
        <circle cx={x(0) - 1} cy={y(mexicoDeaths[0])} r={3} fill={RED} />
      </g>

      <g fontSize={12.5} fill={RED_TEXT} stroke="#fff" strokeWidth={3} strokeLinejoin="round" style={{ paintOrder: "stroke" }}>
        {labelDays.map((d, i) => {
          const [anchor, dx, dy] = labelPlacement[i];
          return (
            <text key={"l" + d} x={x(d) + dx} y={y(mexicoDeaths[d]) + dy} dy="0.35em" textAnchor={anchor}>
              {`${mexicoDeaths[d]} deaths`}
            </text>
          );
        })}
      </g>
      <text
        x={x(last[0]) + 3}
        y={y(last[1]) + 10}
        dy="0.35em"
        fontSize={18}
        fontWeight="bold"
        fill={RED}
        stroke="#fff"
        strokeWidth={3}
        style={{ paintOrder: "stroke" }}
      >
        Mexico
      </text>

      {/* legend */}
      <text x={1038} y={30} fontSize={18} fontWeight="bold" fill="#111">
        Continent
      </text>
      {continents.map((c, i) => {
        const active = c === activeContinent;
        return (
          <g key={c} transform={`translate(1038,${50 + i * 25})`}>
            <rect x={0} y={-6} width={11} height={11} fill={active ? RED : "#cccccc"} />
            <text x={19} y={5.5} fontSize={16} fill={active ? "#222" : "#c4c4c4"}>
              {c}
            </text>
          </g>
        );
      })}
      <line x1={1038} x2={1170} y1={196} y2={196} stroke="#d0d0d0" />

      <g fontSize={16} fill="#333">
        <text x={1038} y={222}>Jan</text>
        <text x={1038} y={245}>25,</text>
        <text x={1038} y={262}>2020</text>
        <text x={1156} y={222} textAnchor="middle">Sep</text>
        <text x={1156} y={245} textAnchor="middle">13,</text>
        <text x={1156} y={262} textAnchor="middle">2020</text>
      </g>
      <g stroke="#666" fill="#666">
        <line x1={1084} x2={1128} y1={236} y2={236} strokeWidth={1} />
        {[1086, 1098, 1110, 1122].map((cx) => (
          <circle key={cx} cx={cx} cy={236} r={2} stroke="none" />
        ))}
        <path d="M1127,232.5 L1134,236 L1127,239.5 z" stroke="none" />
      </g>

      <g fill="#333">
        <text x={1038} y={295} fontSize={17}>Mexico</text>
        <text x={1038} y={319} fontSize={15}>Apr 3, 2020</text>
        <text x={1038} y={332.5} fontSize={12.5}>Y Axis: 6 deaths</text>
        <text x={1038} y={345.5} fontSize={12.5}>X Axis: 0</text>
        <text x={1038} y={371} fontSize={15}>Sep 13, 2020</text>
        <text x={1038} y={384.5} fontSize={12.5}>Y Axis: 435.7</text>
        <text x={1038} y={398.5} fontSize={12.5}>deaths</text>
        <text x={1038} y={413} fontSize={12.5}>X Axis: 163</text>
      </g>
    </svg>
  );
}
